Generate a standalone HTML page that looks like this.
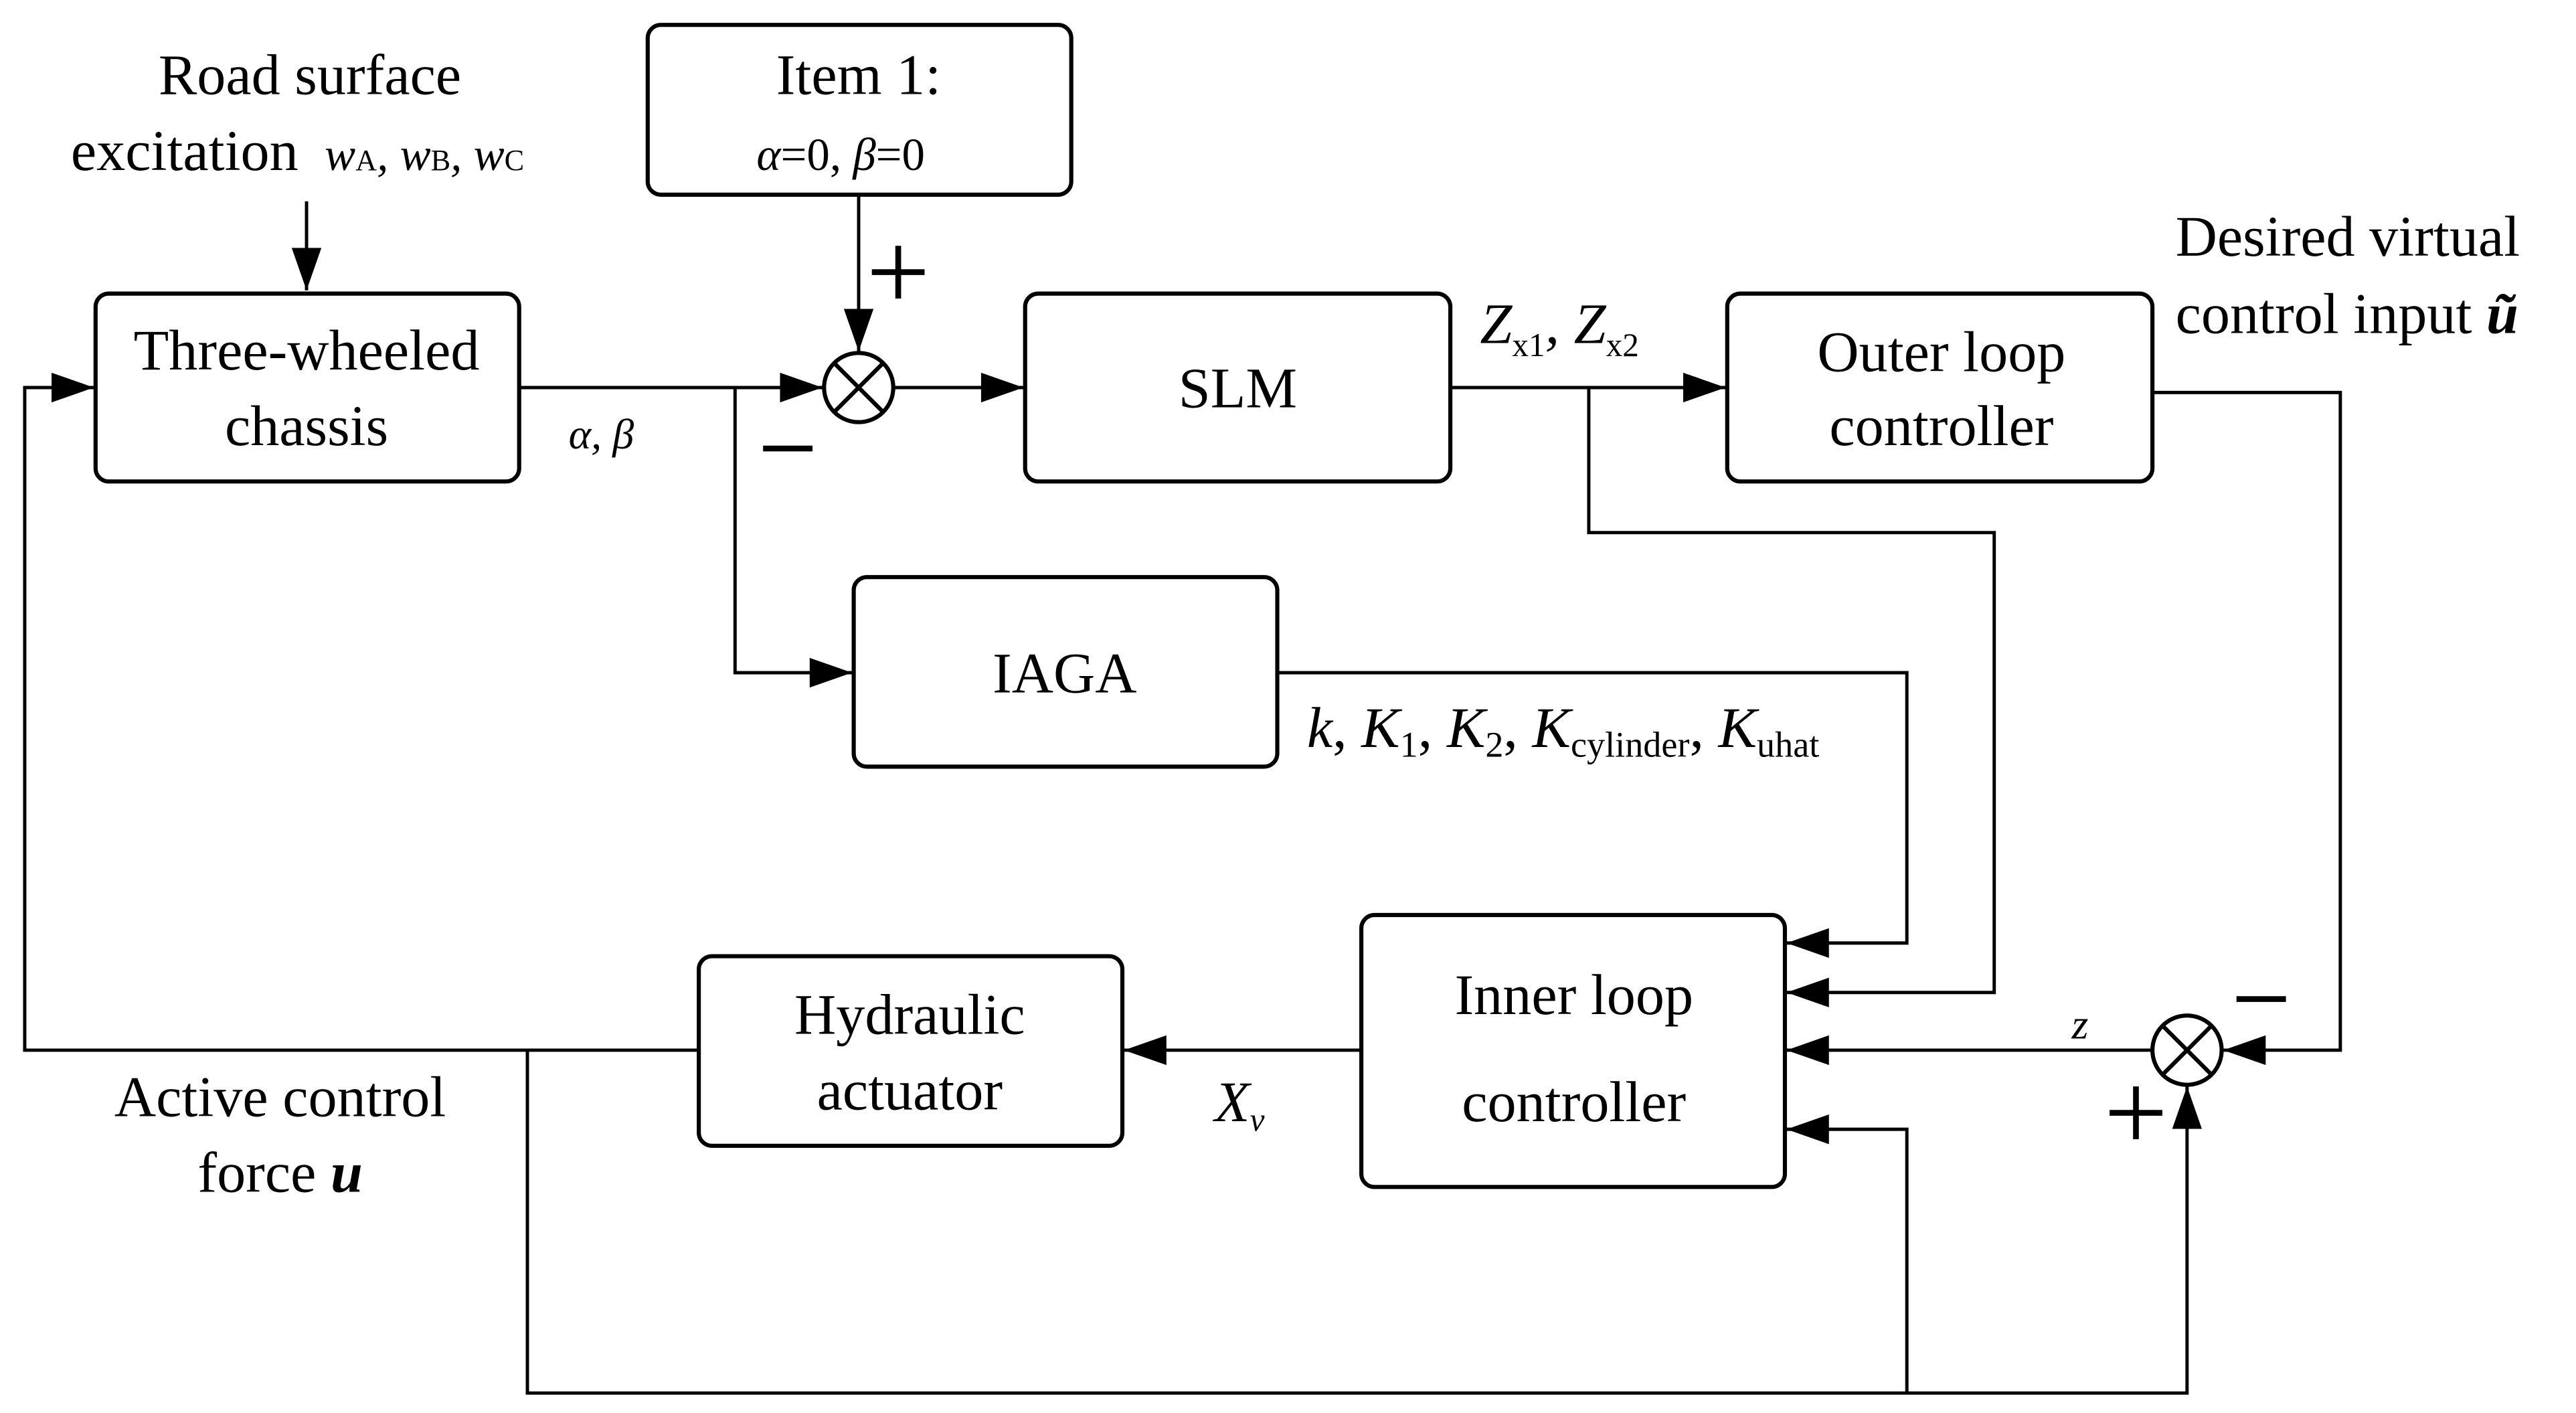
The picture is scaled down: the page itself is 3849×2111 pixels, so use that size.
<!DOCTYPE html>
<html><head><meta charset="utf-8"><style>
html,body{margin:0;padding:0;background:#fff;}
svg{display:block;}
svg text{font-family:"Liberation Serif","DejaVu Serif","Times New Roman",serif;fill:#000;}
</style></head><body>
<svg width="3849" height="2111" viewBox="0 0 1563 857" xmlns="http://www.w3.org/2000/svg" font-family="Liberation Serif, DejaVu Serif, serif">
<defs>
<marker id="ar" viewBox="0 0 20 14" refX="20" refY="7" markerWidth="28" markerHeight="18" markerUnits="userSpaceOnUse" orient="auto"><path d="M0,0 L20,7 L0,14 z" fill="#000"/></marker></defs>
<g fill="none" stroke="#000" stroke-width="2.5">
<rect x="58" y="178" width="257" height="114" rx="8"/>
<rect x="393" y="15" width="257" height="103" rx="8"/>
<rect x="622" y="178" width="258" height="114" rx="8"/>
<rect x="1048" y="178" width="258" height="114" rx="8"/>
<rect x="518" y="350" width="257" height="115" rx="8"/>
<rect x="826" y="555" width="257" height="165" rx="8"/>
<rect x="424" y="580" width="257" height="115" rx="8"/>
<circle cx="521" cy="235" r="21"/>
<line x1="506" y1="220" x2="536" y2="250"/><line x1="536" y1="220" x2="506" y2="250"/>
<circle cx="1327" cy="637" r="21"/>
<line x1="1312" y1="622" x2="1342" y2="652"/><line x1="1342" y1="622" x2="1312" y2="652"/>
</g>
<g fill="none" stroke="#000" stroke-width="2" marker-end="url(#ar)">
<path d="M186,122 V176"/>
<path d="M315,235 H499"/>
<path d="M521,118 V213"/>
<path d="M542,235 H621"/>
<path d="M880,235 H1047"/>
<path d="M1306,238 H1420 V637 H1349"/>
<path d="M964,235 V323 H1210 V602 H1084"/>
<path d="M446,235 V408 H517"/>
<path d="M775,408 H1157 V572 H1084"/>
<path d="M1306,637 H1084"/>
<path d="M826,637 H682"/>
<path d="M424,637 H15 V235 H57"/>
<path d="M320,637 V845 H1327 V659"/>
<path d="M1157,845 V685 H1084"/>
</g>
<g font-size="35" text-anchor="middle">
<text x="188" y="57">Road surface</text>
<text x="112" y="103">excitation</text>
<text x="186" y="224">Three-wheeled</text>
<text x="186" y="270">chassis</text>
<text x="521" y="57">Item 1:</text>
<text x="751" y="247">SLM</text>
<text x="1178" y="225">Outer loop</text>
<text x="1178" y="270">controller</text>
<text x="646" y="420">IAGA</text>
<text x="955" y="615">Inner loop</text>
<text x="955" y="680">controller</text>
<text x="552" y="627">Hydraulic</text>
<text x="552" y="673">actuator</text>
<text x="170" y="677">Active control</text>
<text x="170" y="723">force <tspan font-weight="bold" font-style="italic">u</tspan></text>
</g>
<g font-size="35">
<text x="1320" y="155">Desired virtual</text>
<text x="1320" y="202">control input <tspan font-weight="bold" font-style="italic">ũ</tspan></text>
<text x="197" y="103" font-style="italic" font-size="28">w<tspan font-size="18" font-style="normal">A</tspan>, w<tspan font-size="18" font-style="normal">B</tspan>, w<tspan font-size="18" font-style="normal">C</tspan></text>
<text x="459" y="103" font-size="28"><tspan font-style="italic">α</tspan>=0, <tspan font-style="italic">β</tspan>=0</text>
<text x="345" y="272" font-size="26" font-style="italic">α, β</text>
<text x="898" y="208" font-style="italic">Z<tspan font-size="20" font-style="normal" dy="8">x1</tspan><tspan dy="-8">,  Z</tspan><tspan font-size="20" font-style="normal" dy="8">x2</tspan></text>
<text x="793" y="453"><tspan font-style="italic">k</tspan>, <tspan font-style="italic">K</tspan><tspan font-size="22" dy="6">1</tspan><tspan dy="-6">, </tspan><tspan font-style="italic">K</tspan><tspan font-size="22" dy="6">2</tspan><tspan dy="-6">, </tspan><tspan font-style="italic">K</tspan><tspan font-size="22" dy="6">cylinder</tspan><tspan dy="-6">, </tspan><tspan font-style="italic">K</tspan><tspan font-size="22" dy="6">uhat</tspan></text>
<text x="1257" y="630" font-size="26" font-style="italic">z</text>
<text x="737" y="680" font-style="italic">X<tspan font-size="20" dy="6">v</tspan></text>
</g>
<g stroke="#000" stroke-width="3.5">
<line x1="463" y1="272" x2="493" y2="272"/>
<line x1="1357" y1="606" x2="1387" y2="606"/>
<line x1="529" y1="165" x2="561" y2="165"/><line x1="545" y1="149" x2="545" y2="181"/>
<line x1="1280" y1="675" x2="1312" y2="675"/><line x1="1296" y1="659" x2="1296" y2="691"/>
</g>
</svg>
</body></html>
